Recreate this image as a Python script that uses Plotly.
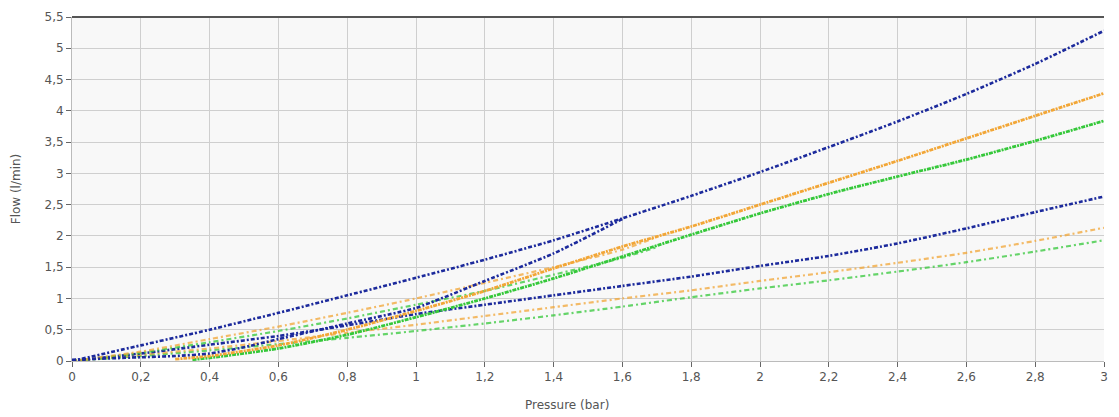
import plotly.graph_objects as go

pressure = [0, 0.2, 0.4, 0.6, 0.8, 1.0, 1.2, 1.4, 1.6, 1.8, 2.0, 2.2, 2.4, 2.6, 2.8, 3.0]

# blue family
blue_high = [0, 0.25, 0.5, 0.77, 1.05, 1.33, 1.62, 1.93, 2.28, 2.64, 3.02, 3.42, 3.83, 4.27, 4.75, 5.28]
blue_rise_x = [0, 0.2, 0.3, 0.4, 0.5, 0.6, 0.8, 1.0, 1.2, 1.4, 1.6]
blue_rise = [0.02, 0.06, 0.08, 0.12, 0.22, 0.35, 0.6, 0.85, 1.28, 1.72, 2.27]
blue_low = [0, 0.12, 0.26, 0.4, 0.57, 0.75, 0.9, 1.05, 1.2, 1.35, 1.52, 1.68, 1.88, 2.12, 2.38, 2.63]

# orange family
orange_high_x = [0, 0.2, 0.4, 0.6, 0.8, 1.0, 1.2, 1.4, 1.6, 1.7]
orange_high = [0, 0.15, 0.35, 0.55, 0.77, 1.0, 1.25, 1.5, 1.78, 1.98]
orange_rise_x = [0.3, 0.4, 0.6, 0.8, 1.0, 1.2, 1.4, 1.6, 1.8, 2.0, 2.2, 2.4, 2.6, 2.8, 3.0]
orange_rise = [0.03, 0.08, 0.25, 0.5, 0.8, 1.12, 1.48, 1.83, 2.15, 2.5, 2.85, 3.2, 3.56, 3.92, 4.28]
orange_low = [0, 0.1, 0.2, 0.32, 0.45, 0.58, 0.72, 0.86, 1.0, 1.13, 1.28, 1.42, 1.57, 1.73, 1.92, 2.13]

# green family
green_high_x = [0, 0.2, 0.4, 0.6, 0.8, 1.0, 1.2, 1.4, 1.6, 1.7]
green_high = [0, 0.13, 0.3, 0.48, 0.68, 0.9, 1.12, 1.38, 1.65, 1.82]
green_rise_x = [0.35, 0.4, 0.6, 0.8, 1.0, 1.2, 1.4, 1.6, 1.8, 2.0, 2.2, 2.4, 2.6, 2.8, 3.0]
green_rise = [0.02, 0.05, 0.2, 0.42, 0.7, 1.0, 1.32, 1.67, 2.02, 2.36, 2.67, 2.95, 3.22, 3.52, 3.84]
green_low = [0, 0.08, 0.17, 0.27, 0.37, 0.48, 0.6, 0.73, 0.87, 1.02, 1.16, 1.29, 1.43, 1.58, 1.75, 1.93]

x_ticks = [0, 0.2, 0.4, 0.6, 0.8, 1, 1.2, 1.4, 1.6, 1.8, 2, 2.2, 2.4, 2.6, 2.8, 3]
x_labels = ["0", "0,2", "0,4", "0,6", "0,8", "1", "1,2", "1,4", "1,6", "1,8", "2", "2,2", "2,4", "2,6", "2,8", "3"]
y_ticks = [0, 0.5, 1, 1.5, 2, 2.5, 3, 3.5, 4, 4.5, 5, 5.5]
y_labels = ["0", "0,5", "1", "1,5", "2", "2,5", "3", "3,5", "4", "4,5", "5", "5,5"]

BLUE = "#1c2a9c"
ORANGE = "#f2a636"
GREEN = "#35c83a"

fig = go.Figure()

def add(x, y, color, dash, width, opacity=1.0):
    fig.add_trace(go.Scatter(x=x, y=y, mode="lines",
                             line=dict(color=color, dash=dash, width=width, shape="spline", smoothing=0.6),
                             opacity=opacity, showlegend=False, hoverinfo="skip"))

add(pressure, green_low, GREEN, "5px,3px,2px,3px", 2.2, 0.75)
add(pressure, orange_low, ORANGE, "5px,3px,2px,3px", 2.2, 0.75)
add(pressure, blue_low, BLUE, "4px,2px,2px,2px", 2.6)
add(green_high_x, green_high, GREEN, "5px,3px,2px,3px", 2.2, 0.75)
add(orange_high_x, orange_high, ORANGE, "5px,3px,2px,3px", 2.2, 0.75)
add(green_rise_x, green_rise, GREEN, "4px,1px,2px,1px", 2.8)
add(orange_rise_x, orange_rise, ORANGE, "4px,1px,2px,1px", 2.8)
add(blue_rise_x, blue_rise, BLUE, "4px,2px,2px,2px", 2.6)
add(pressure, blue_high, BLUE, "4px,2px,2px,2px", 2.6)

axis_font = dict(family="DejaVu Sans, Verdana, sans-serif", size=12, color="#555555")

fig.update_layout(
    width=1119, height=417,
    margin=dict(l=72, r=15, t=17, b=56),
    paper_bgcolor="white",
    plot_bgcolor="#f8f8f8",
    font=axis_font,
    xaxis=dict(
        range=[0, 3], tickvals=x_ticks, ticktext=x_labels, automargin=False,
        showgrid=True, gridcolor="#cfcfcf", gridwidth=1,
        zeroline=False, showline=True, linecolor="#bbbbbb", linewidth=1,
        ticks="outside", ticklen=5, tickcolor="#666666",
    ),
    yaxis=dict(
        range=[0, 5.5], tickvals=y_ticks, ticktext=y_labels, automargin=False,
        showgrid=True, gridcolor="#cfcfcf", gridwidth=1,
        zeroline=False, showline=True, linecolor="#bbbbbb", linewidth=1,
        ticks="outside", ticklen=5, tickcolor="#666666",
    ),
    shapes=[dict(type="line", xref="paper", yref="paper", x0=0, x1=1, y0=1, y1=1,
                 line=dict(color="#555555", width=2))],
    annotations=[
        dict(text="Pressure (bar)", xref="paper", yref="paper", x=0.48, y=-0.128,
             xanchor="center", yanchor="middle", showarrow=False, font=axis_font),
        dict(text="Flow (l/min)", xref="paper", yref="paper", x=-0.054, y=0.5,
             xanchor="center", yanchor="middle", textangle=-90, showarrow=False, font=axis_font),
    ],
)

fig.write_html("out.html")
